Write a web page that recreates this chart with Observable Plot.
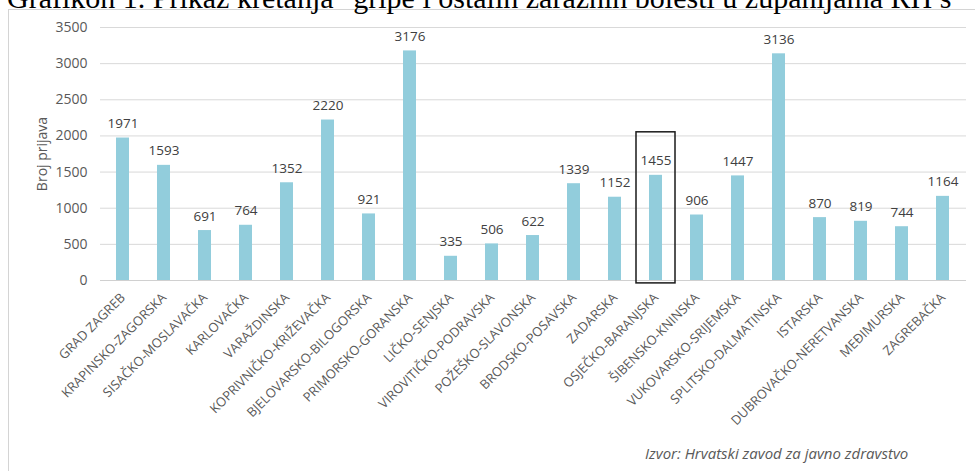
<!DOCTYPE html>
<html>
<head>
<meta charset="utf-8">
<script src="https://cdn.jsdelivr.net/npm/d3@7"></script>
<script src="https://cdn.jsdelivr.net/npm/@observablehq/plot@0.6"></script>
<style>
  html, body { margin: 0; padding: 0; background: #fff; }
  #wrap { position: relative; width: 975px; height: 471px; overflow: hidden; }
  #title { position: absolute; left: 7px; top: -17px; font-family: "Liberation Serif", "Times New Roman", serif; font-size: 30px; line-height: 30px; color: #000; white-space: nowrap; }
  #frame { position: absolute; left: 8px; top: 9px; width: 1000px; height: 600px; border: 1px solid #d4d4d4; box-sizing: border-box; }
  #caption { position: absolute; left: 645px; top: 443px; font-family: "Open Sans", sans-serif; font-style: italic; font-size: 15px; line-height: 20px; color: #595959; white-space: nowrap; }
  #chart { position: absolute; left: 0; top: 0; }
</style>
</head>
<body>
<div id="wrap">
  <div id="chart"></div>
  <div id="frame"></div>
  <div id="title">Grafikon 1. Prikaz kretanja "gripe i ostalih zaraznih bolesti u županijama RH s</div>
  <div id="caption">Izvor: Hrvatski zavod za javno zdravstvo</div>
</div>
<script>
const counties = [
  "GRAD ZAGREB", "KRAPINSKO-ZAGORSKA", "SISAČKO-MOSLAVAČKA", "KARLOVAČKA", "VARAŽDINSKA",
  "KOPRIVNIČKO-KRIŽEVAČKA", "BJELOVARSKO-BILOGORSKA", "PRIMORSKO-GORANSKA", "LIČKO-SENJSKA",
  "VIROVITIČKO-PODRAVSKA", "POŽEŠKO-SLAVONSKA", "BRODSKO-POSAVSKA", "ZADARSKA", "OSJEČKO-BARANJSKA",
  "ŠIBENSKO-KNINSKA", "VUKOVARSKO-SRIJEMSKA", "SPLITSKO-DALMATINSKA", "ISTARSKA",
  "DUBROVAČKO-NERETVANSKA", "MEĐIMURSKA", "ZAGREBAČKA"
];
const reports = [1971, 1593, 691, 764, 1352, 2220, 921, 3176, 335, 506, 622, 1339, 1152, 1455, 906, 1447, 3136, 870, 819, 744, 1164];
const yTicks = [0, 500, 1000, 1500, 2000, 2500, 3000, 3500];
const yLabel = "Broj prijava";
const highlighted = ["OSJEČKO-BARANJSKA"];
const highlightSpan = [-40, 2050];

const data = counties.map((c, i) => ({county: c, value: reports[i]}));
const boxData = highlighted.map(c => ({county: c, y1: highlightSpan[0], y2: highlightSpan[1]}));

const grey = "#595959";
const chart = Plot.plot({
  width: 975,
  height: 471,
  marginTop: 27,
  marginBottom: 191,
  marginLeft: 100,
  marginRight: 9,
  style: {fontFamily: "'Open Sans', sans-serif", background: "transparent", color: grey},
  x: {domain: counties, paddingInner: 0.68, paddingOuter: 0.31, label: null},
  y: {domain: [0, 3500], label: null},
  marks: [
    Plot.gridY(yTicks, {stroke: "#d9d9d9", strokeOpacity: 1, strokeWidth: 1}),
    Plot.axisY(yTicks, {tickSize: 0, tickPadding: 13, fontSize: 14, fill: grey, label: null, tickFormat: d => String(d)}),
    Plot.axisX({tickSize: 0, tickPadding: 15, tickRotate: -45, fontSize: 13, fill: grey, label: null}),
    Plot.barY(data, {x: "county", y: "value", fill: "#92cddc"}),
    Plot.ruleY([0], {stroke: "#d0d0d0", strokeWidth: 1}),
    Plot.text(data, {x: "county", y: "value", text: d => String(d.value), lineAnchor: "bottom", dy: -10, fontSize: 13.5, fill: "#404040"}),
    Plot.barY(boxData, {x: "county", y1: "y1", y2: "y2", fill: "none", stroke: "#1a1a1a", strokeWidth: 1.5, insetLeft: -13, insetRight: -13}),
    Plot.text([yLabel], {frameAnchor: "left", textAnchor: "middle", text: d => d, rotate: -90, dx: -58, fontSize: 14, fill: grey})
  ]
});
document.getElementById("chart").appendChild(chart);
</script>
</body>
</html>
